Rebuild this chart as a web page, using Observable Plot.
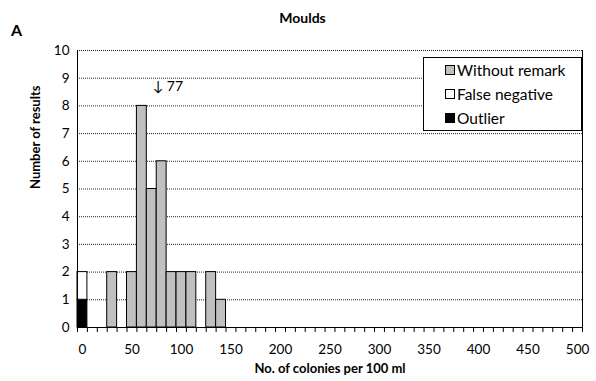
<!DOCTYPE html>
<html>
<head>
<meta charset="utf-8">
<script src="https://cdn.jsdelivr.net/npm/d3@7"></script>
<script src="https://cdn.jsdelivr.net/npm/@observablehq/plot@0.6"></script>
<style>
  body { margin: 0; background: #fff; }
  #wrap { position: relative; width: 596px; height: 381px; font-family: Lato, "Open Sans", sans-serif; }
  #legend {
    position: absolute; left: 423px; top: 57px; width: 159px; height: 74px;
    border: 1px solid #000; background: #fff; box-sizing: border-box;
    font-size: 15.5px; color: #000;
  }
  #legend .item { position: absolute; left: 21px; height: 20px; display: flex; align-items: center; white-space: nowrap; }
  #legend .sw { width: 10px; height: 10px; border: 1px solid #000; margin-right: 2px; box-sizing: border-box; }
</style>
</head>
<body>
<div id="wrap"></div>
<script>
// Series drawn in the histogram (bin = lower edge of a 10-colony class)
const seriesNames = ["Outlier", "False negative", "Without remark"];
const seriesColors = ["#000000", "#ffffff", "#c0c0c0"];

const outlierBins = [0];
const outlierCounts = [1];

const falseNegativeBins = [0];
const falseNegativeCounts = [1];

const withoutRemarkBins = [30, 50, 60, 70, 80, 90, 100, 110, 130, 140];
const withoutRemarkCounts = [2, 2, 8, 5, 6, 2, 2, 2, 2, 1];

const assignedValue = 77;
const yTicks = d3.range(0, 11);
const xLabelTicks = d3.range(0, 501, 50);
const xClassEdges = d3.range(-5, 506, 10);

// Long table; outliers first so they sit at the bottom of each stack
const rows = [
  ...outlierBins.map((b, i) => ({bin: b, count: outlierCounts[i], series: "Outlier"})),
  ...falseNegativeBins.map((b, i) => ({bin: b, count: falseNegativeCounts[i], series: "False negative"})),
  ...withoutRemarkBins.map((b, i) => ({bin: b, count: withoutRemarkCounts[i], series: "Without remark"}))
];

const font = "Lato, 'Open Sans', sans-serif";

const chart = Plot.plot({
  width: 596,
  height: 381,
  marginLeft: 77,
  marginRight: 14,
  marginTop: 50,
  marginBottom: 54,
  style: {fontFamily: font, fontSize: "13.5px", color: "#000", background: "#fff"},
  x: {domain: [-5, 505], axis: null},
  y: {domain: [0, 10], axis: null},
  color: {domain: seriesNames, range: seriesColors},
  marks: [
    Plot.gridY(yTicks.filter(d => d > 0), {stroke: "#000", strokeOpacity: 0.85, strokeDasharray: "1,1"}),
    Plot.rect(rows, Plot.stackY({
      x: "bin",
      x1: d => d.bin - 5,
      x2: d => d.bin + 5,
      y: "count",
      fill: "series",
      stroke: "#000",
      strokeWidth: 1
    })),
    Plot.ruleY([0], {stroke: "#000"}),
    Plot.ruleX([-5], {stroke: "#000"}),
    Plot.ruleX([505], {stroke: "#000"}),
    Plot.axisY({ticks: yTicks, tickSize: 0, tickPadding: 8, label: null, fontSize: 13.5}),
    // class boundary tick marks (no labels)
    Plot.axisX({ticks: xClassEdges, tickSize: 5, fill: "none", stroke: "#000", label: null}),
    Plot.axisX({ticks: xLabelTicks, tickSize: 0, tickPadding: 17, label: null, fontSize: 13.5}),
    Plot.text(["Number of results"], {frameAnchor: "left", dx: -42, rotate: -90, lineAnchor: "middle", fontWeight: "bold", fontSize: 13}),
    Plot.text(["No. of colonies per 100 ml"], {frameAnchor: "bottom", dy: 41, lineAnchor: "middle", fontWeight: "bold", fontSize: 13}),
    Plot.text(["Moulds"], {frameAnchor: "top-left", dx: 225, dy: -32, lineAnchor: "middle", fontWeight: "bold", fontSize: 14, textAnchor: "middle"}),
    Plot.text(["A"], {frameAnchor: "top-left", dx: -61, dy: -20, lineAnchor: "middle", fontWeight: "bold", fontSize: 16, textAnchor: "middle"}),
    Plot.text([assignedValue], {x: d => d, y: 8.7, text: d => "\u2193 " + d, textAnchor: "start", lineAnchor: "middle", dx: -6, fontSize: 14})
  ]
});

const wrap = document.getElementById("wrap");
wrap.appendChild(chart);

// Legend box
const legend = document.createElement("div");
legend.id = "legend";
const legendOrder = ["Without remark", "False negative", "Outlier"];
const legendCenter = [12, 36, 60];
legendOrder.forEach((name, i) => {
  const item = document.createElement("div");
  item.className = "item";
  item.style.top = (legendCenter[i] - 10) + "px";
  const sw = document.createElement("span");
  sw.className = "sw";
  sw.style.background = seriesColors[seriesNames.indexOf(name)];
  const label = document.createElement("span");
  label.textContent = name;
  item.appendChild(sw);
  item.appendChild(label);
  legend.appendChild(item);
});
wrap.appendChild(legend);
</script>
</body>
</html>
